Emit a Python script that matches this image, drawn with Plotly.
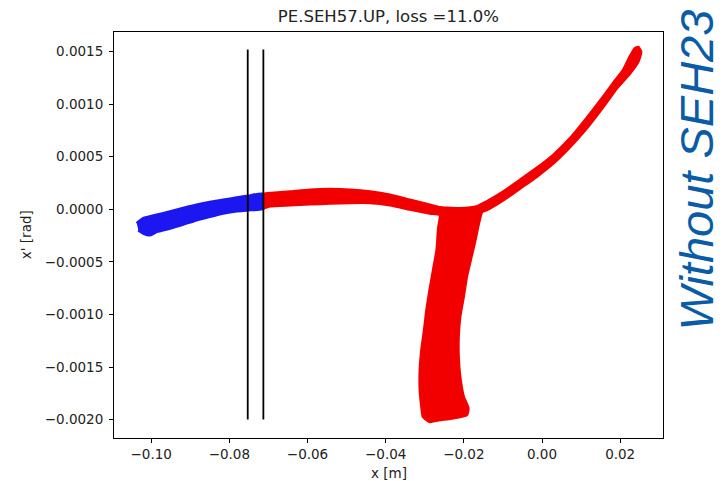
import plotly.graph_objects as go

# Outline of the surviving beam (red) in phase space: x [m], x' [rad]
red_x = [-0.0713, -0.0696, -0.0645, -0.0594, -0.0542, -0.0491, -0.0440, -0.0389,
         -0.0338, -0.0287, -0.0261, -0.0243, -0.0210, -0.0167,
         -0.0142, -0.0099, -0.0056, -0.0014, 0.0029, 0.0072, 0.0114, 0.0157,
         0.0182, 0.0208, 0.0225, 0.0238, 0.0246, 0.0253,
         0.0246, 0.0225, 0.0191, 0.0157, 0.0114, 0.0072, 0.0029, -0.0014,
         -0.0056, -0.0099, -0.0142,
         -0.0154, -0.0163, -0.0171, -0.0180, -0.0193, -0.0201, -0.0210, -0.0214,
         -0.0214, -0.0210, -0.0201, -0.0189, -0.0193,
         -0.0231, -0.0265, -0.0287,
         -0.0304, -0.0308, -0.0312, -0.0312, -0.0308, -0.0301, -0.0295, -0.0287,
         -0.0278, -0.0269, -0.0265, -0.0261,
         -0.0287, -0.0338, -0.0389, -0.0440, -0.0491, -0.0542, -0.0594, -0.0645,
         -0.0696, -0.0713]
red_y = [0.000143, 0.000152, 0.000167, 0.000184, 0.000190, 0.000184, 0.000167, 0.000136,
         0.000088, 0.000041, 0.000017, 0.000012, 0.000008, 0.000025,
         0.000072, 0.000167, 0.000279, 0.000390, 0.000516, 0.000675, 0.000865, 0.001071,
         0.001198, 0.001325, 0.001451, 0.001531, 0.001541, 0.001499,
         0.001404, 0.001293, 0.001151, 0.000976, 0.000770, 0.000595, 0.000438, 0.000310,
         0.000200, 0.000088, -0.000007,
         -0.000026, -0.000149, -0.000292, -0.000435, -0.000641, -0.000831, -0.001021, -0.001212,
         -0.001402, -0.001592, -0.001782, -0.001893, -0.001956,
         -0.001988, -0.002004, -0.002020,
         -0.001973, -0.001877, -0.001719, -0.001528, -0.001338, -0.001148, -0.000958, -0.000768,
         -0.000577, -0.000387, -0.000181, -0.000054,
         -0.000038, 0.000000, 0.000041, 0.000063, 0.000063, 0.000057, 0.000050, 0.000041,
         0.000031, 0.000010]

# Outline of the lost particles (blue)
blue_x = [-0.1037, -0.1020, -0.0986, -0.0952, -0.0918, -0.0884, -0.0850, -0.0816,
          -0.0781, -0.0752, -0.0713,
          -0.0713, -0.0752, -0.0781, -0.0816, -0.0850, -0.0884, -0.0918, -0.0952,
          -0.0986, -0.1003, -0.1020, -0.1033]
blue_y = [-0.000133, -0.000086, -0.000054, -0.000023, 0.000010, 0.000041, 0.000067, 0.000088,
          0.000110, 0.000126, 0.000143,
          0.000010, -0.000007, -0.000016, -0.000038, -0.000070, -0.000102, -0.000143, -0.000181,
          -0.000213, -0.000244, -0.000228, -0.000197]

# Septum wire positions and their drawn extent
septum_x = [-0.0753, -0.0713]
septum_y = [-0.0020, 0.00152]

x_ticks = [-0.10, -0.08, -0.06, -0.04, -0.02, 0.00, 0.02]
x_tick_text = ["\u22120.10", "\u22120.08", "\u22120.06", "\u22120.04", "\u22120.02", "0.00", "0.02"]
y_ticks = [0.0015, 0.0010, 0.0005, 0.0, -0.0005, -0.0010, -0.0015, -0.0020]
y_tick_text = ["0.0015", "0.0010", "0.0005", "0.0000", "\u22120.0005", "\u22120.0010",
               "\u22120.0015", "\u22120.0020"]

RED = "#f20000"
BLUE = "#1c16f0"

fig = go.Figure()
fig.add_trace(go.Scatter(x=blue_x, y=blue_y, fill="toself", fillcolor=BLUE,
                         mode="lines", line=dict(color=BLUE, width=3, shape="spline", smoothing=0.6),
                         hoverinfo="skip", showlegend=False))
fig.add_trace(go.Scatter(x=red_x, y=red_y, fill="toself", fillcolor=RED,
                         mode="lines", line=dict(color=RED, width=3, shape="spline", smoothing=0.5),
                         hoverinfo="skip", showlegend=False))
for sx in septum_x:
    fig.add_trace(go.Scatter(x=[sx, sx], y=septum_y, mode="lines",
                             line=dict(color="black", width=1.8),
                             hoverinfo="skip", showlegend=False))

label_font = dict(family="DejaVu Sans", size=13.5, color="#222")
axis_common = dict(showgrid=False, zeroline=False, showline=True, linecolor="black",
                   linewidth=1, mirror=True, ticks="outside", ticklen=4, tickwidth=1,
                   tickcolor="black", tickfont=label_font, automargin=False)

fig.update_layout(
    width=725, height=481,
    margin=dict(l=114, r=62, t=32, b=43),
    paper_bgcolor="white", plot_bgcolor="white",
    title=dict(text="PE.SEH57.UP, loss =11.0%", x=0.5356, xanchor="center",
               y=0.966, yanchor="middle",
               font=dict(family="DejaVu Sans", size=16.5, color="#222")),
    xaxis=dict(range=[-0.10952, 0.03096], tickvals=x_ticks, ticktext=x_tick_text,
               ticklabelstandoff=0, **axis_common),
    yaxis=dict(range=[-0.002175, 0.001686], tickvals=y_ticks, ticktext=y_tick_text,
               ticklabelstandoff=3, **axis_common),
    annotations=[
        dict(text="x [m]", xref="paper", yref="paper", x=0.5, y=-0.086,
             xanchor="center", yanchor="middle", showarrow=False, font=label_font),
        dict(text="x' [rad]", xref="paper", yref="paper", x=-0.16, y=0.5,
             xanchor="center", yanchor="middle", textangle=-90, showarrow=False,
             font=label_font),
        dict(text="Without SEH23", xref="paper", yref="paper",
             x=1.061, y=0.66, xanchor="center", yanchor="middle",
             textangle=-90, showarrow=False,
             font=dict(family="Liberation Sans", size=47, color="#0b5ca6",
                       style="italic")),
    ],
)

fig.write_html("out.html")
